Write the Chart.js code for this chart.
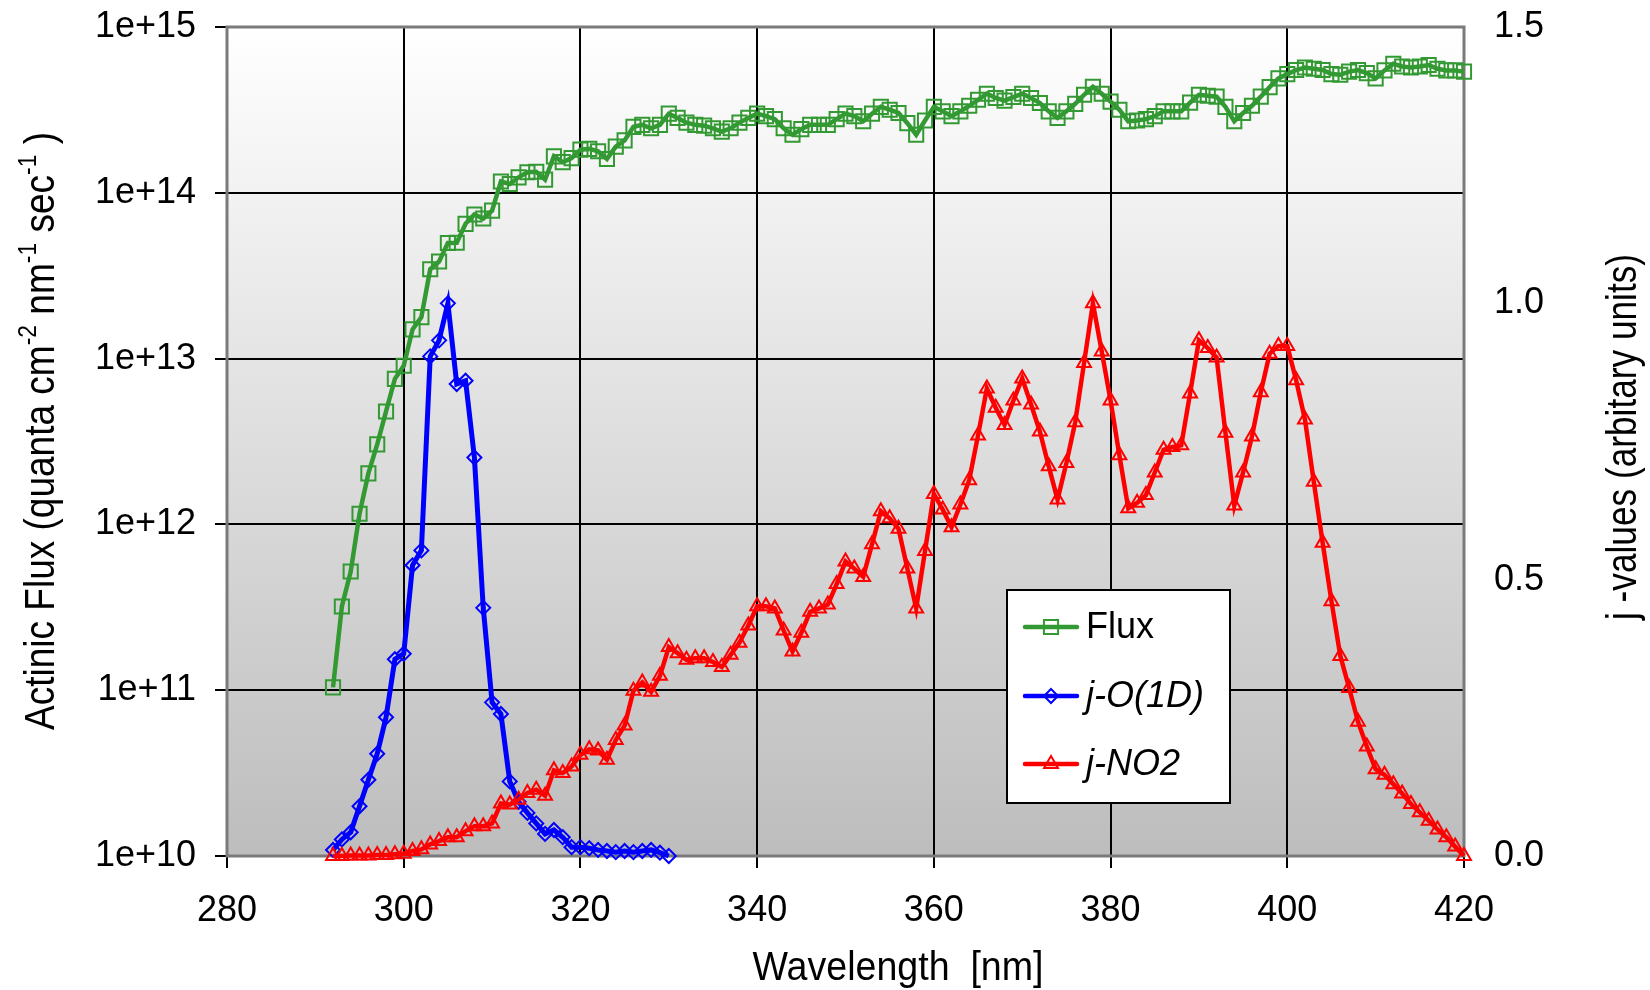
<!DOCTYPE html>
<html>
<head>
<meta charset="utf-8">
<script src="https://cdn.jsdelivr.net/npm/chart.js@4/dist/chart.umd.min.js"></script>
<style>
html,body{margin:0;padding:0;background:#fff;}
#wrap{width:1650px;height:990px;}
</style>
</head>
<body>
<div id="wrap"><canvas id="c" width="1650" height="990"></canvas></div>
<script>
// ---------------- DATA ----------------
const wavelength = [292,293,294,295,296,297,298,299,300,301,302,303,304,305,306,307,308,309,310,
311,312,313,314,315,316,317,318,319,320,321,322,323,324,325,326,327,328,329,330,
331,332,333,334,335,336,337,338,339,340,341,342,343,344,345,346,347,348,349,350,
351,352,353,354,355,356,357,358,359,360,361,362,363,364,365,366,367,368,369,370,
371,372,373,374,375,376,377,378,379,380,381,382,383,384,385,386,387,388,389,390,
391,392,393,394,395,396,397,398,399,400,401,402,403,404,405,406,407,408,409,410,
411,412,413,414,415,416,417,418,419,420];

const wavelengthO1D = [292,293,294,295,296,297,298,299,300,301,302,303,304,305,306,307,308,309,310,
311,312,313,314,315,316,317,318,319,320,321,322,323,324,325,326,327,328,329,330];

const fluxValues = [1.04e11,3.2e11,5.2e11,1.16e12,2.03e12,3.04e12,4.8e12,7.55e12,9.06e12,
1.5e13,1.78e13,3.46e13,3.85e13,4.98e13,5.0e13,6.5e13,7.4e13,7.0e13,7.8e13,
1.17e14,1.13e14,1.24e14,1.33e14,1.34e14,1.2e14,1.66e14,1.53e14,1.62e14,1.82e14,
1.84e14,1.78e14,1.6e14,1.9e14,2.07e14,2.5e14,2.57e14,2.45e14,2.57e14,3.0e14,
2.83e14,2.65e14,2.57e14,2.54e14,2.45e14,2.34e14,2.45e14,2.65e14,2.83e14,3.0e14,
2.9e14,2.78e14,2.45e14,2.24e14,2.42e14,2.57e14,2.57e14,2.57e14,2.78e14,3.0e14,
2.9e14,2.7e14,3.0e14,3.3e14,3.17e14,3.03e14,2.63e14,2.24e14,2.73e14,3.3e14,
3.1e14,2.9e14,3.1e14,3.35e14,3.64e14,3.96e14,3.73e14,3.6e14,3.78e14,3.96e14,
3.73e14,3.48e14,3.1e14,2.83e14,3.1e14,3.44e14,3.9e14,4.36e14,3.96e14,3.55e14,
3.17e14,2.7e14,2.73e14,2.78e14,2.9e14,3.1e14,3.1e14,3.1e14,3.5e14,3.9e14,
3.85e14,3.8e14,3.3e14,2.7e14,3.03e14,3.35e14,3.8e14,4.34e14,4.9e14,5.2e14,
5.5e14,5.7e14,5.6e14,5.5e14,5.2e14,5.15e14,5.38e14,5.5e14,5.27e14,4.9e14,
5.47e14,6.0e14,5.78e14,5.7e14,5.78e14,5.9e14,5.6e14,5.47e14,5.47e14,5.38e14];

const jO1DValues = [0.011,0.030,0.043,0.090,0.138,0.185,0.251,0.356,0.366,0.526,0.553,
0.904,0.933,1.0,0.854,0.860,0.721,0.449,0.278,0.257,0.135,0.098,0.078,0.059,0.040,
0.047,0.034,0.016,0.016,0.014,0.011,0.009,0.007,0.009,0.007,0.009,0.011,0.006,0.0];

const jNO2Values = [0.0,0.0,0.001,0.001,0.001,0.002,0.002,0.003,0.004,0.009,0.012,
0.021,0.027,0.034,0.034,0.045,0.054,0.054,0.059,0.095,0.093,0.102,0.114,0.120,0.109,
0.155,0.150,0.162,0.183,0.193,0.191,0.174,0.210,0.236,0.299,0.314,0.297,0.326,0.378,
0.367,0.355,0.358,0.358,0.351,0.342,0.364,0.386,0.417,0.452,0.452,0.448,0.408,0.370,
0.404,0.442,0.448,0.455,0.492,0.533,0.520,0.505,0.564,0.624,0.611,0.592,0.520,0.448,
0.552,0.655,0.627,0.595,0.636,0.680,0.761,0.846,0.811,0.780,0.824,0.864,0.817,0.768,
0.705,0.645,0.711,0.785,0.892,1.0,0.913,0.824,0.725,0.629,0.639,0.653,0.694,0.735,
0.740,0.743,0.837,0.933,0.919,0.902,0.766,0.634,0.694,0.759,0.839,0.909,0.923,0.923,
0.861,0.790,0.677,0.567,0.461,0.362,0.304,0.243,0.198,0.157,0.147,0.130,0.113,0.094,
0.079,0.064,0.048,0.034,0.017,0.0];

const xTicks = [280,300,320,340,360,380,400,420];
const yLeftTicks = [1e10,1e11,1e12,1e13,1e14,1e15];
const yRightTicks = [0.0,0.5,1.0,1.5];
const seriesNames = ['Flux','j-O(1D)','j-NO2'];

// ---------------- STYLE ----------------
const FONT = '"Liberation Sans", Arial, Helvetica, sans-serif';
const GREEN = '#339933', BLUE = '#0000ff', RED = '#ff0000';

function pts(xs, ys){ return xs.map((x,i)=>({x:x, y:ys[i]})); }

const bgPlugin = {
  id:'bg',
  beforeDraw(chart){
    const {ctx, chartArea:a} = chart;
    ctx.save();
    ctx.fillStyle = '#ffffff';
    ctx.fillRect(0,0,chart.width,chart.height);
    const g = ctx.createLinearGradient(0,a.top,0,a.bottom);
    g.addColorStop(0,'#ffffff');
    g.addColorStop(1,'#bdbdbd');
    ctx.fillStyle = g;
    ctx.fillRect(a.left,a.top,a.right-a.left,a.bottom-a.top);
    ctx.restore();
  }
};

const borderPlugin = {
  id:'frame',
  beforeDatasetsDraw(chart){
    const {ctx, chartArea:a} = chart;
    ctx.save();
    ctx.strokeStyle = '#7a7a7a';
    ctx.lineWidth = 3;
    ctx.strokeRect(a.left,a.top,a.right-a.left,a.bottom-a.top);
    ctx.restore();
  }
};

function drawRotatedRich(ctx, parts, cx, cy, baseSize, supSize, targetLen){
  ctx.save();
  let total = 0;
  const widths = parts.map(p=>{
    ctx.font = (p.sup ? supSize : baseSize) + 'px ' + FONT;
    const w = ctx.measureText(p.t).width;
    total += w;
    return w;
  });
  const sx = targetLen / total;
  ctx.translate(cx, cy);
  ctx.rotate(-Math.PI/2);
  ctx.scale(sx, 1);
  ctx.fillStyle = '#000';
  ctx.textBaseline = 'alphabetic';
  ctx.textAlign = 'left';
  let x = -total/2;
  parts.forEach((p,i)=>{
    ctx.font = (p.sup ? supSize : baseSize) + 'px ' + FONT;
    ctx.fillText(p.t, x, p.sup ? -baseSize*0.42 : 0);
    x += widths[i];
  });
  ctx.restore();
}

const titlePlugin = {
  id:'titles',
  afterDraw(chart){
    const ctx = chart.ctx;
    drawRotatedRich(ctx, [
      {t:'Actinic Flux (quanta cm'},{t:'-2',sup:true},{t:' nm'},{t:'-1',sup:true},
      {t:' sec'},{t:'-1',sup:true},{t:' )'}
    ], 54, 431, 42, 26, 598);
    drawRotatedRich(ctx, [{t:'j -values (arbitary units)'}], 1636, 437, 42, 26, 366);
    ctx.save();
    ctx.font = '40px ' + FONT;
    const t = 'Wavelength  [nm]';
    const w = ctx.measureText(t).width;
    ctx.translate(898, 980);
    ctx.scale(291/w, 1);
    ctx.fillStyle = '#000';
    ctx.textAlign = 'center';
    ctx.textBaseline = 'alphabetic';
    ctx.fillText(t, 0, 0);
    ctx.restore();
  }
};

function drawMarker(ctx, style, x, y, r, color, lw){
  ctx.save();
  ctx.strokeStyle = color;
  ctx.lineWidth = lw;
  ctx.beginPath();
  if (style === 'rect'){
    const s = Math.SQRT1_2 * r;
    ctx.rect(x-s, y-s, 2*s, 2*s);
  } else if (style === 'rectRot'){
    ctx.moveTo(x, y-r); ctx.lineTo(x+r, y); ctx.lineTo(x, y+r); ctx.lineTo(x-r, y); ctx.closePath();
  } else {
    ctx.moveTo(x, y-r);
    ctx.lineTo(x + r*Math.sin(2*Math.PI/3), y - r*Math.cos(2*Math.PI/3));
    ctx.lineTo(x + r*Math.sin(4*Math.PI/3), y - r*Math.cos(4*Math.PI/3));
    ctx.closePath();
  }
  ctx.stroke();
  ctx.restore();
}

const legendPlugin = {
  id:'customLegend',
  afterDraw(chart){
    const ctx = chart.ctx;
    const bx = 1007, by = 590, bw = 223, bh = 213;
    ctx.save();
    ctx.fillStyle = '#ffffff';
    ctx.fillRect(bx, by, bw, bh);
    ctx.strokeStyle = '#000';
    ctx.lineWidth = 2;
    ctx.strokeRect(bx, by, bw, bh);
    const rows = [627, 696, 764];
    chart.data.datasets.forEach((ds, i)=>{
      const y = rows[i];
      ctx.strokeStyle = ds.borderColor;
      ctx.lineWidth = 4.5;
      ctx.lineCap = 'round';
      ctx.beginPath(); ctx.moveTo(1025, y); ctx.lineTo(1077, y); ctx.stroke();
      drawMarker(ctx, ds.pointStyle, 1051, y, ds.pointRadius, ds.borderColor, 2);
      ctx.fillStyle = '#000';
      ctx.font = (i === 0 ? '' : 'italic ') + '36px ' + FONT;
      ctx.textBaseline = 'middle';
      ctx.textAlign = 'left';
      ctx.fillText(ds.label, 1086, y + 1);
    });
    ctx.restore();
  }
};

function noPad(s){ s.paddingTop = 0; s.paddingBottom = 0; }

const chart = new Chart(document.getElementById('c'), {
  type:'line',
  data:{
    datasets:[
      { label: seriesNames[0], data: pts(wavelength, fluxValues), yAxisID:'y',
        borderColor: GREEN, backgroundColor:'rgba(0,0,0,0)', borderWidth:4.5,
        pointStyle:'rect', pointRadius:10, pointBorderWidth:2, pointBorderColor:GREEN,
        pointBackgroundColor:'rgba(0,0,0,0)', tension:0, clip:false, order:3 },
      { label: seriesNames[1], data: pts(wavelengthO1D, jO1DValues), yAxisID:'y2',
        borderColor: BLUE, backgroundColor:'rgba(0,0,0,0)', borderWidth:5,
        pointStyle:'rectRot', pointRadius:7, pointBorderWidth:2, pointBorderColor:BLUE,
        pointBackgroundColor:'rgba(0,0,0,0)', tension:0, clip:false, order:2 },
      { label: seriesNames[2], data: pts(wavelength, jNO2Values), yAxisID:'y2',
        borderColor: RED, backgroundColor:'rgba(0,0,0,0)', borderWidth:4.5,
        pointStyle:'triangle', pointRadius:8, pointBorderWidth:2, pointBorderColor:RED,
        pointBackgroundColor:'rgba(0,0,0,0)', tension:0, clip:false, order:1 }
    ]
  },
  options:{
    responsive:false,
    animation:false,
    devicePixelRatio:1,
    layout:{ padding:{ top:27, left:0, right:0, bottom:0 } },
    plugins:{ legend:{display:false}, tooltip:{enabled:false}, title:{display:false} },
    scales:{
      x:{
        type:'linear', min:280, max:420,
        afterBuildTicks(s){ s.ticks = xTicks.map(v=>({value:v})); },
        afterFit(s){ s.height = 134; s.paddingLeft = 0; s.paddingRight = 0; },
        ticks:{ color:'#000', font:{size:36, family:FONT}, padding:21, maxRotation:0, autoSkip:false },
        grid:{ color:'#000', lineWidth:2, tickLength:12, drawTicks:true },
        border:{ display:false }
      },
      y:{
        type:'logarithmic', position:'left', min:1e10, max:1e15,
        afterBuildTicks(s){ s.ticks = yLeftTicks.map(v=>({value:v})); },
        afterFit(s){ s.width = 227; noPad(s); },
        ticks:{ color:'#000', font:{size:36, family:FONT}, padding:19, autoSkip:false,
          callback(v){ return '1e+' + Math.round(Math.log10(v)); } },
        grid:{ color:'#000', lineWidth:2, tickLength:12, drawTicks:true },
        border:{ display:false }
      },
      y2:{
        type:'linear', position:'right', min:0, max:1.5,
        afterBuildTicks(s){ s.ticks = yRightTicks.map(v=>({value:v})); },
        afterFit(s){ s.width = 186; noPad(s); },
        ticks:{ color:'#000', font:{size:36, family:FONT}, padding:30, autoSkip:false,
          callback(v){ return Number(v).toFixed(1); } },
        grid:{ drawOnChartArea:false, drawTicks:false },
        border:{ display:false }
      }
    }
  },
  plugins:[bgPlugin, borderPlugin, titlePlugin, legendPlugin]
});
</script>
</body>
</html>
